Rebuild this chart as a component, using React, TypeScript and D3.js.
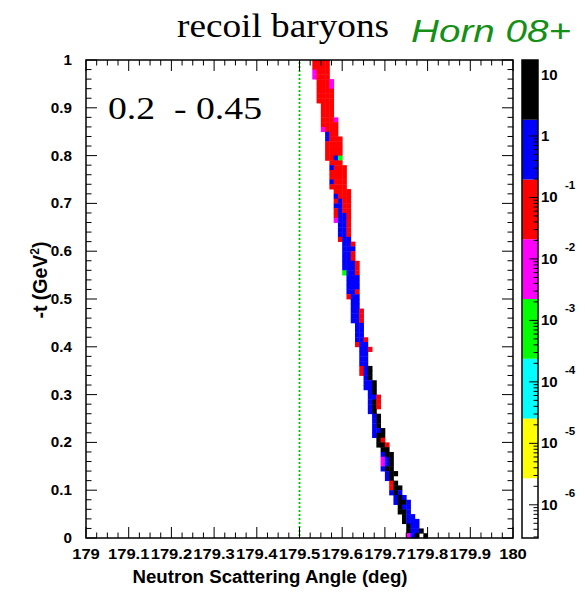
import React from "react";
import * as d3 from "d3";

// ---------- data ----------
const xDomain: [number, number] = [179, 180];
const yDomain: [number, number] = [0, 1];
const xTickValues = [179, 179.1, 179.2, 179.3, 179.4, 179.5, 179.6, 179.7, 179.8, 179.9, 180];
const xTickLabels = ["179", "179.1", "179.2", "179.3", "179.4", "179.5", "179.6", "179.7", "179.8", "179.9", "180"];
const yTickValues = [0, 0.1, 0.2, 0.3, 0.4, 0.5, 0.6, 0.7, 0.8, 0.9, 1];
const yTickLabels = ["0", "0.1", "0.2", "0.3", "0.4", "0.5", "0.6", "0.7", "0.8", "0.9", "1"];
const zLogRange: [number, number] = [-6.54, 1.236];
const zTickExps = [-6, -5, -4, -3, -2, -1, 0, 1];
const palette = ["#ffffff", "#ffff00", "#00ffff", "#00ff00", "#ff00ff", "#ff0000", "#0000ff", "#000000"];
const codeCounts: Record<string, number> = { k: 5, b: 0.6, r: 0.06, m: 0.006, g: 0.0006 };
const binWidth = 0.01;
const binHeight = 0.01;
const cutLine = 179.5;

// rows listed from the top (t bin 0.99-1.00) down to the bottom (t bin 0.00-0.01)
const rowStartCol = [
  53, 53, 53, 53, 54, 54, 54, 54, 54, 55,
  55, 55, 55, 55, 55, 56, 56, 56, 56, 56,
  56, 57, 57, 57, 57, 57, 57, 58, 58, 58,
  58, 58, 58, 58, 59, 59, 59, 59, 60, 60,
  60, 60, 60, 60, 60, 61, 61, 61, 61, 61,
  62, 62, 62, 62, 62, 63, 63, 63, 63, 63,
  64, 64, 64, 64, 64, 64, 65, 65, 65, 66,
  66, 66, 66, 66, 67, 67, 67, 67, 67, 68,
  68, 69, 69, 69, 69, 69, 70, 70, 71, 71,
  71, 72, 72, 73, 73, 74, 74, 75, 75, 75,
];
const rowCodes = [
  "rrrr", "rrrr", "mrrr", "mrrr", "rrrm", "rrrm", "rrrr", "rrrr", "rrrr", "rrr",
  "rrr", "rrr", "rrrm", "rrrr", "mrrr", "brr", "brrr", "rrrr", "rrrr", "rrrr",
  "rrbg", "rrr", "brrr", "rrrr", "rrrr", "brrr", "rrrr", "rrrr", "brrr", "rbrr",
  "bbrr", "rbrr", "rbbr", "mbbr", "bbr", "bbr", "bbr", "rbb", "bbr", "bbb",
  "bbr", "bbr", "bbbr", "bbbr", "gbbr", "bbb", "bbb", "bbb", "bbr", "rbb",
  "bb", "bb", "bbr", "bbr", "bbr", "bb", "bb", "bb", "bbr", "rbb",
  "bbr", "bb", "bb", "bb", "rbk", "rbk", "bk", "bbk", "bbk", "bk",
  "bbr", "bkr", "bkr", "bk", "bk", "bk", "bk", "bbk", "bkk", "kr",
  "kkr", "kk", "bkk", "mbk", "mbk", "bkk", "bkk", "bk", "rk", "rkk",
  "bkb", "bkb", "bkkb", "kbb", "kkb", "kbb", "kbbb", "kbb", "kbbk", "mbk",
];
const extraCells = [{ row: 0, col: 79, code: "k" }];

// ---------- layout ----------
const W = 585;
const H = 593;
const frame = { left: 86, right: 513, top: 60, bottom: 538 };
const bar = { left: 522, right: 538 };
const SANS = "'Liberation Sans', Arial, Helvetica, sans-serif";
const SERIF = "'Liberation Serif', 'Times New Roman', serif";

function ST(props: {
  x: number; y: number; sx?: number; size: number; anchor?: string; weight?: string;
  family?: string; fill?: string; style?: string; len?: number; children: React.ReactNode;
}) {
  const { x, y, sx = 1, size, anchor = "start", weight = "normal", family = SANS, fill = "#000", style = "normal", len } = props;
  return (
    <text
      transform={`translate(${x},${y}) scale(${sx},1)`}
      fontSize={size}
      textAnchor={anchor}
      fontWeight={weight}
      fontFamily={family}
      fill={fill}
      fontStyle={style}
      textLength={len}
      lengthAdjust={len ? "spacingAndGlyphs" : undefined}
      style={{ whiteSpace: "pre" }}
    >
      {props.children}
    </text>
  );
}

export default function App() {
  const x = d3.scaleLinear().domain(xDomain).range([frame.left, frame.right]);
  const y = d3.scaleLinear().domain(yDomain).range([frame.bottom, frame.top]);
  const [lo, hi] = zLogRange;
  const z = d3.scaleLog().domain([10 ** lo, 10 ** hi]).range([frame.bottom, frame.top]);
  const step = (hi - lo) / palette.length;
  const thresholds = d3.range(1, palette.length).map((i) => 10 ** (lo + i * step));
  const color = d3.scaleThreshold<number, string>().domain(thresholds).range(palette);

  type Cell = { row: number; col: number; code: string };
  const cells: Cell[] = [];
  rowCodes.forEach((codes, i) => {
    const row = rowCodes.length - 1 - i;
    codes.split("").forEach((code, j) => cells.push({ row, col: rowStartCol[i] + j, code }));
  });
  extraCells.forEach((c) => cells.push(c));

  const xMinor = d3.range(0, 41).map((i) => xDomain[0] + i * 0.025);
  const yMinor = d3.range(0, 51).map((i) => i * 0.02);

  const zMinor: number[] = [];
  for (let e = -7; e <= 1; e++) for (let m = 2; m <= 9; m++) {
    const v = m * 10 ** e;
    if (v >= 10 ** lo && v <= 10 ** hi) zMinor.push(v);
  }

  return (
    <svg width={W} height={H} style={{ position: "absolute", left: 0, top: 0, background: "#fff" }}>
      <rect x={0} y={0} width={W} height={H} fill="#fff" />
      {/* bins */}
      <g>
        {cells.map((c, i) => {
          const a0 = xDomain[0] + c.col * binWidth;
          const t0 = c.row * binHeight;
          const x0 = x(a0), x1 = x(a0 + binWidth);
          const y0 = y(t0 + binHeight), y1 = y(t0);
          return (
            <rect key={i} x={x0} y={y0} width={x1 - x0 + 0.4} height={y1 - y0 + 0.4} fill={color(codeCounts[c.code])} />
          );
        })}
      </g>
      {/* cut line */}
      <line x1={x(cutLine)} x2={x(cutLine)} y1={frame.top + 2} y2={frame.bottom} stroke="#00c000" strokeWidth={1.8} strokeDasharray="2,2" />
      {/* frame */}
      <rect x={frame.left} y={frame.top} width={frame.right - frame.left} height={frame.bottom - frame.top} fill="none" stroke="#000" strokeWidth={1.5} />
      {/* ticks */}
      <g stroke="#000" strokeWidth={1}>
        {xMinor.map((v, i) => {
          const major = i % 4 === 0;
          const L = major ? 11 : 5.5;
          return (
            <g key={i}>
              <line x1={x(v)} x2={x(v)} y1={frame.bottom} y2={frame.bottom - L} />
              <line x1={x(v)} x2={x(v)} y1={frame.top} y2={frame.top + L} />
            </g>
          );
        })}
        {yMinor.map((v, i) => {
          const major = i % 5 === 0;
          const L = major ? 11 : 5.5;
          return (
            <g key={i}>
              <line x1={frame.left} x2={frame.left + L} y1={y(v)} y2={y(v)} />
              <line x1={frame.right} x2={frame.right - L} y1={y(v)} y2={y(v)} />
            </g>
          );
        })}
      </g>
      {/* x tick labels */}
      {xTickValues.map((v, i) => (
        <ST key={i} x={x(v)} y={559} size={15.5} sx={1.07} anchor="middle" weight="bold">{xTickLabels[i]}</ST>
      ))}
      {/* y tick labels */}
      {yTickValues.map((v, i) => (
        <ST key={i} x={72} y={y(v) + 5} size={14.5} sx={1.05} anchor="end" weight="bold">{yTickLabels[i]}</ST>
      ))}
      {/* colour bar */}
      {palette.map((c, i) => (
        <rect key={i} x={bar.left} width={bar.right - bar.left}
          y={z(10 ** (lo + (i + 1) * step))}
          height={z(10 ** (lo + i * step)) - z(10 ** (lo + (i + 1) * step))}
          fill={c} />
      ))}
      <rect x={bar.left} y={frame.top} width={bar.right - bar.left} height={frame.bottom - frame.top} fill="none" stroke="#000" strokeWidth={1.5} />
      <g stroke="#000" strokeWidth={1}>
        {zTickExps.map((e) => (
          <line key={e} x1={bar.right} x2={bar.right - 9} y1={z(10 ** e)} y2={z(10 ** e)} />
        ))}
        {zMinor.map((v, i) => (
          <line key={i} x1={bar.right} x2={bar.right - 4.5} y1={z(v)} y2={z(v)} />
        ))}
      </g>
      {zTickExps.map((e) => (
        <g key={e}>
          <ST x={541} y={z(10 ** e) + 5} size={15} sx={1.0} weight="bold">{e === 0 ? "1" : "10"}</ST>
          {e < 0 && <ST x={565} y={z(10 ** e) - 8} size={11} sx={1.05} weight="bold">{String(e)}</ST>}
        </g>
      ))}
      {/* titles */}
      <ST x={177} y={37} size={33} family={SERIF} len={212}>recoil baryons</ST>
      <ST x={411} y={42} size={31} style="italic" fill="#168f16" len={160}>Horn 08+</ST>
      <ST x={108} y={119} size={32} family={SERIF} len={154}>{"0.2  - 0.45"}</ST>
      <ST x={270} y={583} size={17.5} anchor="middle" weight="bold" len={275}>Neutron Scattering Angle (deg)</ST>
      <text transform={`translate(47,${280}) rotate(-90)`} fontSize={19.5} fontWeight="bold" fontFamily={SANS} textAnchor="middle">
        -t (GeV<tspan fontSize={12} dy={-8}>2</tspan><tspan dy={8}>)</tspan>
      </text>
    </svg>
  );
}
